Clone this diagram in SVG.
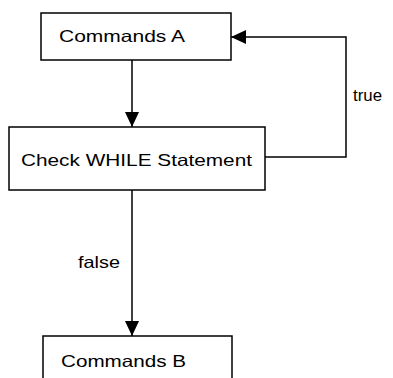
<svg xmlns="http://www.w3.org/2000/svg" width="393" height="378" viewBox="0 0 393 378">
<style>
.box{fill:#fff;stroke:#000;stroke-width:1.5}
.t{font-family:"Liberation Sans",Arial,sans-serif;font-size:16.5px;fill:#000}
.c{fill:none;stroke:#000;stroke-width:1.5}
</style>
<defs>
<marker id="ah" viewBox="0 0 15 14" refX="15" refY="7" markerWidth="15" markerHeight="14" markerUnits="userSpaceOnUse" orient="auto">
<path d="M0,0 L15,7 L0,14 Z" fill="#000"/>
</marker>
</defs>
<rect width="393" height="378" fill="#fff"/>
<g id="connectors">
<line class="c" x1="132" y1="60" x2="132" y2="127" marker-end="url(#ah)"/>
<polyline class="c" points="265,157 346,157 346,37 231,37" marker-end="url(#ah)"/>
<line class="c" x1="132" y1="190" x2="132" y2="336" marker-end="url(#ah)"/>
<text class="t" x="353" y="101" textLength="29" lengthAdjust="spacingAndGlyphs">true</text>
<text class="t" x="78" y="268" textLength="42" lengthAdjust="spacingAndGlyphs">false</text>
</g>
<g id="nodeA">
<rect class="box" x="41" y="13" width="190" height="47"/>
<text class="t" x="59" y="42" textLength="126" lengthAdjust="spacingAndGlyphs">Commands A</text>
</g>
<g id="nodeCheck">
<rect class="box" x="9" y="127" width="256" height="63"/>
<text class="t" x="21" y="166" textLength="231" lengthAdjust="spacingAndGlyphs">Check WHILE Statement</text>
</g>
<g id="nodeB">
<rect class="box" x="43" y="336" width="189" height="60"/>
<text class="t" x="61" y="367" textLength="125" lengthAdjust="spacingAndGlyphs">Commands B</text>
</g>
</svg>
